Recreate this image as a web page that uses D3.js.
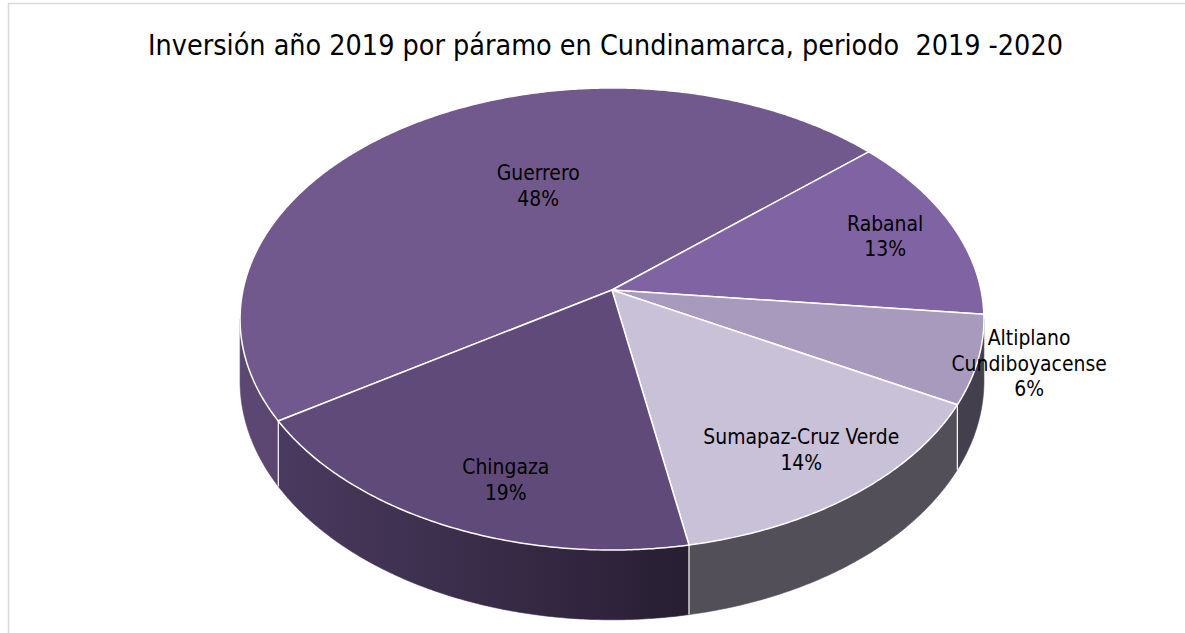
<!DOCTYPE html>
<html><head><meta charset="utf-8">
<script src="https://cdn.jsdelivr.net/npm/d3@7"></script>
<style>body{margin:0;background:#fff;} svg{display:block}</style>
</head><body>
<script>
const categories = ["Guerrero", "Rabanal", "Altiplano Cundiboyacense", "Sumapaz-Cruz Verde", "Chingaza"];
const values = [47.6, 13.1, 6.2, 14.2, 18.9];
const colors = ["#72598D", "#7F63A2", "#A79ABD", "#C8C1D7", "#5F4A79"];
const titleText = "Inversión año 2019 por páramo en Cundinamarca, periodo  2019 -2020";

const W = 1185, H = 633;
const svg = d3.select("body").append("svg").attr("width", W).attr("height", H);
svg.append("rect").attr("x", 8.5).attr("y", 3.5).attr("width", W).attr("height", H)
  .attr("fill", "#fff").attr("stroke", "#d9d9d9").attr("stroke-width", 1.5);

const FONT = "Tahoma, 'DejaVu Sans Condensed', 'DejaVu Sans', sans-serif";

// projection of the tilted disc
const cx = 612, cy = 290, A = 369, B = 227.4, k = 0.1255, D = 61;
const xs = d3.scaleLinear().domain([-1, 1]).range([cx - A, cx + A]);
const ys = d3.scaleLinear().domain([-1, 1]).range([cy - B, cy + B]);
function proj(t, r, z) {
  const u = r * Math.cos(t), v = r * Math.sin(t), w = 1 - k * v;
  return [xs(u / w), ys(v / w) + z * D / w];
}
const deg = Math.PI / 180;
function arcPts(t1, t2, z) {
  const n = Math.max(2, Math.ceil(Math.abs(t2 - t1) / (0.5 * deg)));
  return d3.range(n + 1).map(i => proj(t1 + (t2 - t1) * i / n, 1, z));
}
const line = d3.line();

const start = 237.5 * deg;
const pie = d3.pie().sort(null).value(d => d).startAngle(start).endAngle(start + 2 * Math.PI);
const arcs = pie(values).map((d, i) => ({
  i, t1: d.startAngle - Math.PI / 2, t2: d.endAngle - Math.PI / 2, value: d.value
}));
const total = d3.sum(values);

// gradients for sides
const defs = svg.append("defs");
colors.forEach((c, i) => {
  const base = d3.rgb(c);
  const dark = f => d3.rgb(base.r * f, base.g * f, base.b * f).formatHex();
  const g = defs.append("linearGradient").attr("id", "side" + i)
    .attr("gradientUnits", "userSpaceOnUse").attr("x1", 260).attr("x2", 690).attr("y1", 0).attr("y2", 0);
  g.append("stop").attr("offset", 0).attr("stop-color", dark(0.80));
  g.append("stop").attr("offset", 1).attr("stop-color", dark(0.41));
});

// sides
const tmin = Math.asin(k), tmax = Math.PI - Math.asin(k);
const sideG = svg.append("g");
arcs.forEach(s => {
  [-2 * Math.PI, 0, 2 * Math.PI].forEach(off => {
    const a = Math.max(s.t1 + off, tmin), b = Math.min(s.t2 + off, tmax);
    if (b > a) {
      const pts = arcPts(a, b, 0).concat(arcPts(b, a, 1));
      sideG.append("path").attr("d", line(pts) + "Z").attr("fill", `url(#side${s.i})`)
        .attr("stroke", `url(#side${s.i})`).attr("stroke-width", 0.6);
    }
  });
});
// seams
arcs.forEach(s => {
  [-2 * Math.PI, 0, 2 * Math.PI].forEach(off => {
    const t = s.t1 + off;
    if (t > tmin && t < tmax) {
      sideG.append("path").attr("d", line([proj(t, 1, 0), proj(t, 1, 1)]))
        .attr("stroke", "#fff").attr("stroke-width", 1.2).attr("fill", "none");
    }
  });
});

// top faces
const topG = svg.append("g");
arcs.forEach(s => {
  const pts = [[cx, cy]].concat(arcPts(s.t1, s.t2, 0));
  topG.append("path").attr("d", line(pts) + "Z").attr("fill", colors[s.i])
    .attr("stroke", "#fff").attr("stroke-width", 1.5).attr("stroke-linejoin", "round");
});

// title
const title = svg.append("text").attr("x", 605.5).attr("y", 55).attr("text-anchor", "middle")
  .style("white-space", "pre").attr("font-family", FONT).attr("font-size", 24).attr("fill", "#000")
  .text(titleText);
const tw = title.node().getComputedTextLength();
title.attr("font-size", 24 * 915 / tw);

// labels
const probe = svg.append("text").attr("font-family", FONT).attr("font-size", 20).text("Sumapaz-Cruz Verde");
const labelSize = 20 * 196 / probe.node().getComputedTextLength();
probe.remove();

const labelLayout = [
  { r: 0.53, a: 246.4 * deg },
  { r: 0.8 },
  { r: 1.13, a: 16 * deg },
  { r: 0.8 },
  { r: 0.8, a: 109 * deg }
];
const lineGap = 25.5;
arcs.forEach(s => {
  const L = labelLayout[s.i];
  const ang = L.a !== undefined ? L.a : (s.t1 + s.t2) / 2;
  const [lx, ly] = proj(ang, L.r, 0);
  const name = categories[s.i];
  const lines = (name === "Altiplano Cundiboyacense" ? ["Altiplano", "Cundiboyacense"] : [name])
    .concat([Math.round(s.value / total * 100) + "%"]);
  const t = svg.append("text").attr("text-anchor", "middle").attr("font-family", FONT)
    .attr("font-size", labelSize).attr("fill", "#000");
  lines.forEach((ln, j) => {
    t.append("tspan").attr("x", lx).attr("y", ly + (j - (lines.length - 1) / 2) * lineGap)
      .attr("dominant-baseline", "central").text(ln);
  });
});
</script>
</body></html>
